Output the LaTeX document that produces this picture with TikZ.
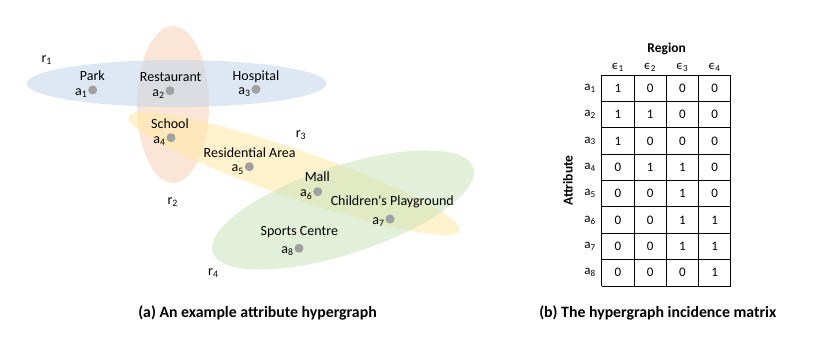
\documentclass[tikz,border=0pt]{standalone}
\usepackage{fontspec}
\setmainfont{Carlito}
\newfontfamily\dvfont{DejaVu Sans}
\usepackage{tikz}
\usetikzlibrary{positioning}
\definecolor{hblue}{RGB}{200,217,237}
\definecolor{horange}{RGB}{248,212,187}
\definecolor{hyellow}{RGB}{255,233,170}
\definecolor{hgreen}{RGB}{207,230,192}
\definecolor{dotgray}{RGB}{160,160,160}
\tikzset{
	hedge/.style={fill opacity=0.6},
	vtx/.style={circle, fill=dotgray, inner sep=0pt, minimum size=9pt},
	lbl/.style={font=\fontsize{14}{16}\selectfont, inner sep=1pt},
	attr/.style={lbl, inner sep=0.5pt},
	cell/.style={font=\fontsize{13}{15}\selectfont, inner sep=0pt},
	hdr/.style={font=\fontsize{13.5}{16}\selectfont\bfseries, inner sep=0pt},
	captxt/.style={font=\fontsize{15.8}{18}\selectfont\bfseries, inner sep=0pt},
}
\newcommand{\av}[1]{a\textsubscript{#1}}
\newcommand{\rv}[1]{r\textsubscript{#1}}
\newcommand{\ev}[1]{{\dvfont\fontsize{11}{13}\selectfont ϵ}\textsubscript{#1}}

\begin{document}
\begin{tikzpicture}[x=1pt, y=-1pt]
	\useasboundingbox (0,0) rectangle (830,352);
	% hyperedges
	\fill[hedge, fill=horange] (173,104.5) ellipse [x radius=36, y radius=78.5];
	\fill[hedge, fill=hblue] (176.5,83.5) ellipse [x radius=150, y radius=23.5];
	\fill[hedge, fill=hyellow, rotate around={-19:(294,173.5)}] (294,173.5) ellipse [x radius=175, y radius=24];
	\fill[hedge, fill=hgreen, rotate around={18:(343,210)}] (343,210) ellipse [x radius=137, y radius=44];
	\node[lbl] (r1) at (46.7,60) {\rv{1}};
	\node[lbl] (r2) at (172.7,201.7) {\rv{2}};
	\node[lbl] (r3) at (301,135) {\rv{3}};
	\node[lbl] (r4) at (213.3,273.3) {\rv{4}};
	% attributes
	\node[vtx] (v1) at (92.7,90) {};
	\node[vtx] (v2) at (170,90.7) {};
	\node[vtx] (v3) at (256,89.3) {};
	\node[vtx] (v4) at (171,137.7) {};
	\node[vtx] (v5) at (249.3,166.7) {};
	\node[vtx] (v6) at (317.7,191.7) {};
	\node[vtx] (v7) at (390,219) {};
	\node[vtx] (v8) at (299,248.3) {};
	\foreach \i in {1,...,8}
		\node[attr, left=0pt of v\i, yshift=-3pt] (l\i) {\av{\i}};
	\node[lbl] (n1) at (92.3,76) {Park};
	\node[lbl] (n2) at (170.7,76.7) {Restaurant};
	\node[lbl] (n3) at (256,76.7) {Hospital};
	\node[lbl] (n4) at (170,124) {School};
	\node[lbl] (n5) at (249.7,152.3) {Residential Area};
	\node[lbl] (n6) at (317.3,176.7) {Mall};
	\node[lbl] (n7) at (392.3,202.3) {Children\textquotesingle s Playground};
	\node[lbl] (n8) at (299.3,231.7) {Sports Centre};
	% incidence matrix
	\foreach \k in {0,...,4}
		\draw[line width=0.8pt] ({601.7+32.25*\k},75) -- ({601.7+32.25*\k},286);
	\foreach \k in {0,...,8}
		\draw[line width=0.8pt] (601.7,{75+26.375*\k}) -- (730.7,{75+26.375*\k});
	\node[hdr] (reg) at (666.7,49) {Region};
	\node[hdr, rotate=90] (att) at (568,180.5) {Attribute};
	\foreach \j in {1,...,4}
		\node[cell] (e\j) at ({601.7+32.25*(\j-0.5)},67.5) {\ev{\j}};
	\foreach \row [count=\i] in {{1,0,0,0},{1,1,0,0},{1,0,0,0},{0,1,1,0},{0,0,1,0},{0,0,1,1},{0,0,1,1},{0,0,0,1}} {
		\node[cell] (m\i) at (590,{75+26.375*(\i-0.5)}) {\av{\i}};
		\foreach \val [count=\j] in \row
			\node[cell] (c\i\j) at ({601.7+32.25*(\j-0.5)},{75+26.375*(\i-0.5)}) {\val};
	}
	% captions
	\node[captxt] (capa) at (257.5,313) {(a) An example attribute hypergraph};
	\node[captxt] (capb) at (657.8,313) {(b) The hypergraph incidence matrix};
\end{tikzpicture}
\end{document}
